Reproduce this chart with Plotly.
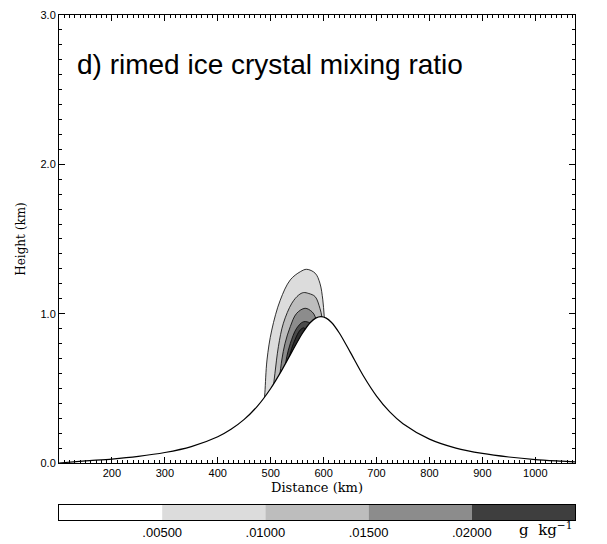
import plotly.graph_objects as go

# ---------------- data ----------------
# terrain height (km) along distance (km)
terrain_x = [100, 150, 200, 250, 300, 350, 400, 425, 450, 475, 500, 520, 540, 560, 575, 585, 595,
             605, 615, 630, 650, 675, 700, 725, 750, 800, 850, 900, 950, 1000, 1050, 1075]
terrain_y = [0.0, 0.014, 0.026, 0.044, 0.070, 0.110, 0.176, 0.226, 0.292, 0.381, 0.499, 0.615, 0.744,
             0.869, 0.941, 0.970, 0.980, 0.970, 0.941, 0.869, 0.744, 0.584, 0.448, 0.342, 0.263, 0.160,
             0.100, 0.064, 0.040, 0.023, 0.012, 0.007]

# contour outlines of the rimed ice mixing ratio (g/kg) above the terrain
levels = [0.005, 0.010, 0.015, 0.020, 0.025]
c005_x = [487, 489, 493, 502, 518, 537, 556, 568, 584, 593, 598.5, 601, 603]
c005_y = [0.38, 0.47, 0.69, 0.89, 1.09, 1.226, 1.281, 1.297, 1.271, 1.204, 1.092, 0.99, 0.90]
c010_x = [504, 508, 514.6, 524, 540, 553, 562, 572, 584, 593, 596.6, 598]
c010_y = [0.48, 0.60, 0.78, 0.936, 1.07, 1.125, 1.141, 1.135, 1.114, 1.036, 0.98, 0.90]
c015_x = [516, 521, 527, 537, 549, 565, 578, 584, 586]
c015_y = [0.55, 0.69, 0.80, 0.913, 1.002, 1.036, 1.013, 0.98, 0.92]
c020_x = [527, 530.4, 537, 549, 562, 574.5, 578]
c020_y = [0.64, 0.712, 0.80, 0.902, 0.946, 0.936, 0.90]
c025_x = [535, 537, 543, 555.6, 563, 566]
c025_y = [0.70, 0.735, 0.80, 0.89, 0.905, 0.88]
contours_x = [c005_x, c010_x, c015_x, c020_x, c025_x]
contours_y = [c005_y, c010_y, c015_y, c020_y, c025_y]

x_ticks = [200, 300, 400, 500, 600, 700, 800, 900, 1000]
y_ticks = [0, 1, 2, 3]
y_ticktext = ["0.0", "1.0", "2.0", "3.0"]

cbar_bounds = [1, 2, 3, 4]
cbar_labels = [".00500", ".01000", ".01500", ".02000"]
cbar_segments = [0, 1, 2, 3, 4]
cbar_unit = "g  kg<sup>\u22121</sup>"

# ---------------- styles ----------------
band_colors = ["#dcdcdc", "#bdbdbd", "#8c8c8c", "#4a4a4a", "#2e2e2e"]
cbar_colors = ["#ffffff", "#dcdcdc", "#bdbdbd", "#8c8c8c", "#3e3e3e"]
SANS = "Liberation Sans, Arial, sans-serif"
SERIF = "DejaVu Serif, serif"

fig = go.Figure()

# filled contour bands (closed down to the ground, then masked by the terrain)
for cx, cy, col in zip(contours_x, contours_y, band_colors):
    px = list(cx) + [cx[-1], cx[0]]
    py = list(cy) + [0, 0]
    fig.add_trace(go.Scatter(x=px, y=py, mode="lines", fill="toself", fillcolor=col,
                             line=dict(color="black", width=0.8, shape="spline", smoothing=1.0),
                             hoverinfo="skip", showlegend=False, xaxis="x", yaxis="y"))

# terrain (white below, black outline)
fig.add_trace(go.Scatter(x=terrain_x, y=terrain_y, mode="lines", fill="tozeroy", fillcolor="white",
                         line=dict(color="black", width=1.2, shape="spline", smoothing=0.8),
                         hoverinfo="skip", showlegend=False, xaxis="x", yaxis="y"))

# colour key as a horizontal stacked bar
fig.add_trace(go.Bar(x=[1] * len(cbar_segments), y=[0] * len(cbar_segments), base=cbar_segments,
                     orientation="h", width=1, marker=dict(color=cbar_colors, line=dict(width=0)),
                     hoverinfo="skip", showlegend=False, xaxis="x2", yaxis="y2"))

axis_common = dict(showline=True, linecolor="black", linewidth=1, mirror="allticks",
                   showgrid=False, zeroline=False, ticks="inside", tickcolor="black",
                   tickwidth=1, ticklen=6, automargin=False)

fig.update_layout(
    width=607, height=544,
    margin=dict(l=51, r=40, t=7, b=32),
    paper_bgcolor="white", plot_bgcolor="white",
    barmode="overlay",
    xaxis=dict(domain=[0, 1], range=[100, 1075], tickvals=x_ticks,
               tickfont=dict(family=SANS, size=11, color="black"),
               minor=dict(dtick=10, ticklen=3, ticks="inside", tickcolor="black", tickwidth=1),
               title=dict(text="Distance (km)", font=dict(family=SERIF, size=13, color="black"),
                          standoff=4),
               anchor="y", **axis_common),
    yaxis=dict(domain=[0.1129, 1], range=[0, 3], tickvals=y_ticks, ticktext=y_ticktext,
               tickfont=dict(family=SANS, size=11, color="black"),
               minor=dict(dtick=0.1, ticklen=3, ticks="inside", tickcolor="black", tickwidth=1),
               title=dict(text="Height (km)", font=dict(family=SERIF, size=12, color="black"),
                          standoff=12),
               anchor="x", **axis_common),
    xaxis2=dict(domain=[0, 1], range=[0, 5], tickvals=cbar_bounds, ticktext=cbar_labels,
                showline=True, linecolor="black", linewidth=1, mirror=True, ticks="",
                showgrid=False, zeroline=False, automargin=False,
                tickfont=dict(family=SANS, size=13, color="black"), anchor="y2"),
    yaxis2=dict(domain=[0, 0.0297], range=[-0.5, 0.5], showticklabels=False, ticks="",
                showline=True, linecolor="black", linewidth=1, mirror=True, automargin=False,
                showgrid=False, zeroline=False, anchor="x2"),
    annotations=[
        dict(text="d) rimed ice crystal mixing ratio", x=130, y=2.666, xref="x", yref="y",
             xanchor="left", yanchor="middle", showarrow=False,
             font=dict(family=SANS, size=28, color="black")),
        dict(text=cbar_unit, x=4.71, y=-0.6, xref="x2", yref="y2 domain",
             xanchor="center", yanchor="middle", showarrow=False,
             font=dict(family=SERIF, size=15, color="black")),
    ],
)

fig.write_html("out.html")
